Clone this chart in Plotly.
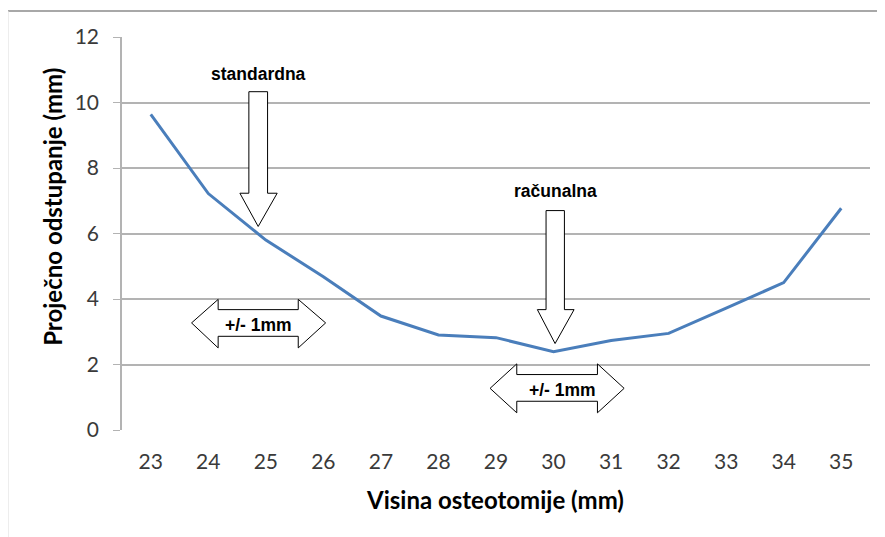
import plotly.graph_objects as go

# ---- data ----
heights = [23, 24, 25, 26, 27, 28, 29, 30, 31, 32, 33, 34, 35]
deviation = [9.64, 7.22, 5.80, 4.68, 3.48, 2.90, 2.82, 2.39, 2.73, 2.95, 3.72, 4.50, 6.77]
y_ticks = [0, 2, 4, 6, 8, 10, 12]
x_title = "Visina osteotomije (mm)"
y_title = "Proječno odstupanje (mm)"
label_standard = "standardna"
label_computer = "računalna"
label_range = "+/- 1mm"

fig = go.Figure()
fig.add_trace(go.Scatter(x=heights, y=deviation, mode="lines",
                         line=dict(color="#4a7ebb", width=3), showlegend=False,
                         hoverinfo="x+y"))


def down_arrow(xl, xr, hl, hr, xt, ytop, yhead, ytip):
    return (f"M {xl},{ytop} L {xr},{ytop} L {xr},{yhead} L {hr},{yhead} "
            f"L {xt},{ytip} L {hl},{yhead} L {xl},{yhead} Z")


def double_arrow(lt, lb, rb, rt, htop, stop, mid, sbot, hbot):
    return (f"M {lt},{mid} L {lb},{htop} L {lb},{stop} L {rb},{stop} L {rb},{htop} "
            f"L {rt},{mid} L {rb},{hbot} L {rb},{sbot} L {lb},{sbot} L {lb},{hbot} Z")


arrow_style = dict(type="path", xref="x", yref="y", fillcolor="white",
                   line=dict(color="black", width=1), layer="above")

shapes = [
    # outer chart frame: darker top edge, light left edge
    dict(type="line", xref="paper", yref="paper", x0=-0.1524, x1=1.1, y0=1.0662, y1=1.0662,
         line=dict(color="#a8a8a8", width=2), layer="below"),
    dict(type="line", xref="paper", yref="paper", x0=-0.1524, x1=-0.1524, y0=-0.6, y1=1.0662,
         line=dict(color="#e2e2e2", width=1.2), layer="below"),
    dict(arrow_style, path=down_arrow(24.705, 25.030, 24.549, 25.197, 24.867, 10.33, 7.23, 6.215)),
    dict(arrow_style, path=down_arrow(29.870, 30.189, 29.719, 30.357, 30.027, 6.70, 3.675, 2.64)),
    dict(arrow_style, path=double_arrow(23.709, 24.171, 25.563, 26.039, 3.988, 3.675, 3.27, 2.861, 2.507)),
    dict(arrow_style, path=double_arrow(28.897, 29.361, 30.763, 31.227, 2.019, 1.693, 1.272, 0.878, 0.525)),
]

bold_font = dict(family="Liberation Sans, Arial", size=17.5, color="black")
title_font = dict(family="Lato", size=24, color="black")
annotations = [
    dict(x=24.877, y=10.875, xref="x", yref="y", text=f"<b>{label_standard}</b>",
         showarrow=False, font=bold_font),
    dict(x=30.04, y=7.283, xref="x", yref="y", text=f"<b>{label_computer}</b>",
         showarrow=False, font=bold_font),
    dict(x=24.867, y=3.217, xref="x", yref="y", text=f"<b>{label_range}</b>",
         showarrow=False, font=bold_font),
    dict(x=30.16, y=1.214, xref="x", yref="y", text=f"<b>{label_range}</b>",
         showarrow=False, font=bold_font),
    dict(x=0.4987, y=-0.178, xref="paper", yref="paper", text=f"<b>{x_title}</b>",
         showarrow=False, font=title_font, xanchor="center", yanchor="middle"),
    dict(x=-0.0922, y=0.568, xref="paper", yref="paper", text=f"<b>{y_title}</b>",
         showarrow=False, textangle=-90, font=title_font,
         xanchor="center", yanchor="middle"),
]

tick_font = dict(family="Lato", size=21, color="#3a3a3a")

fig.update_layout(
    width=877, height=529,
    margin=dict(l=114, r=15, t=29, b=107),
    paper_bgcolor="white", plot_bgcolor="white",
    shapes=shapes, annotations=annotations,
    xaxis=dict(range=[22.5, 35.5], tickvals=heights, showgrid=False, zeroline=False,
               showline=False, ticks="", ticklabelstandoff=17, tickfont=tick_font),
    yaxis=dict(range=[0, 12], tickvals=y_ticks, showgrid=True, gridcolor="#b3b3b3",
               gridwidth=1.5, zeroline=False, showline=True, linecolor="#b3b3b3",
               linewidth=1.5, ticks="outside", ticklen=7, tickcolor="#b3b3b3",
               ticklabelstandoff=10, tickfont=tick_font),
)

fig.write_html("out.html")
